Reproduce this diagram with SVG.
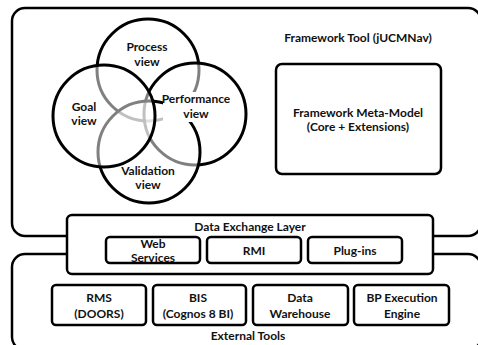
<svg xmlns="http://www.w3.org/2000/svg" width="478" height="345" viewBox="0 0 478 345">
  <style>
    .frame { fill: #fff; stroke: #000; stroke-width: 2.5; }
    .box { fill: #fff; stroke: #000; stroke-width: 2.5; }
    .view { fill: #fff; fill-opacity: 0.5; stroke: #000; stroke-width: 3; }
    .label-bg { fill: #fff; stroke: none; }
    text { font-family: Lato, "Open Sans", "Liberation Sans", sans-serif; font-weight: bold; font-size: 12px; fill: #111; text-anchor: middle; }
  </style>

  <!-- outer frames -->
  <g id="framework-tool">
    <rect class="frame" x="12" y="8" width="469" height="228" rx="13"/>
    <text x="358" y="42">Framework Tool (jUCMNav)</text>
  </g>
  <g id="external-tools">
    <rect class="frame" x="12" y="254" width="469" height="96" rx="13"/>
    <text x="248" y="340">External Tools</text>
  </g>

  <!-- overlapping views, drawn bottom to top -->
  <g id="views">
    <circle id="process-view" class="view" cx="148" cy="70" r="51"/>
    <circle id="performance-view" class="view" cx="195" cy="114" r="51"/>
    <circle id="validation-view" class="view" cx="149" cy="152" r="51"/>
    <circle id="goal-view" class="view" cx="104" cy="116" r="51"/>
    <rect class="label-bg" x="163" y="92" width="67" height="30"/>
    <text x="147" y="51">Process</text>
    <text x="147" y="66">view</text>
    <text x="84" y="111">Goal</text>
    <text x="84" y="125">view</text>
    <text x="196" y="103">Performance</text>
    <text x="196" y="118">view</text>
    <text x="148" y="175">Validation</text>
    <text x="148" y="189">view</text>
  </g>

  <g id="meta-model">
    <rect class="box" x="276" y="64" width="165" height="110" rx="6"/>
    <text x="358" y="117">Framework Meta-Model</text>
    <text x="358" y="131">(Core + Extensions)</text>
  </g>

  <!-- data exchange layer -->
  <g id="data-exchange-layer">
    <rect class="box" x="67" y="215" width="366" height="59" rx="5"/>
    <text x="250" y="231">Data Exchange Layer</text>
  </g>
  <g id="web-services">
    <rect class="box" x="106" y="237" width="94" height="26" rx="4"/>
    <text x="153" y="248">Web</text>
    <text x="153" y="262">Services</text>
  </g>
  <g id="rmi">
    <rect class="box" x="207" y="237" width="94" height="26" rx="4"/>
    <text x="254" y="255">RMI</text>
  </g>
  <g id="plug-ins">
    <rect class="box" x="308" y="237" width="94" height="26" rx="4"/>
    <text x="355" y="255">Plug-ins</text>
  </g>

  <!-- external tools -->
  <g id="rms">
    <rect class="box" x="52" y="285" width="94" height="40" rx="4"/>
    <text x="99" y="302">RMS</text>
    <text x="99" y="318">(DOORS)</text>
  </g>
  <g id="bis">
    <rect class="box" x="153" y="285" width="93" height="40" rx="4"/>
    <text x="198" y="302">BIS</text>
    <text x="198" y="318">(Cognos 8 BI)</text>
  </g>
  <g id="data-warehouse">
    <rect class="box" x="253" y="285" width="95" height="40" rx="4"/>
    <text x="300" y="302">Data</text>
    <text x="300" y="318">Warehouse</text>
  </g>
  <g id="bp-engine">
    <rect class="box" x="354" y="285" width="95" height="40" rx="4"/>
    <text x="402" y="302">BP Execution</text>
    <text x="402" y="318">Engine</text>
  </g>
</svg>
